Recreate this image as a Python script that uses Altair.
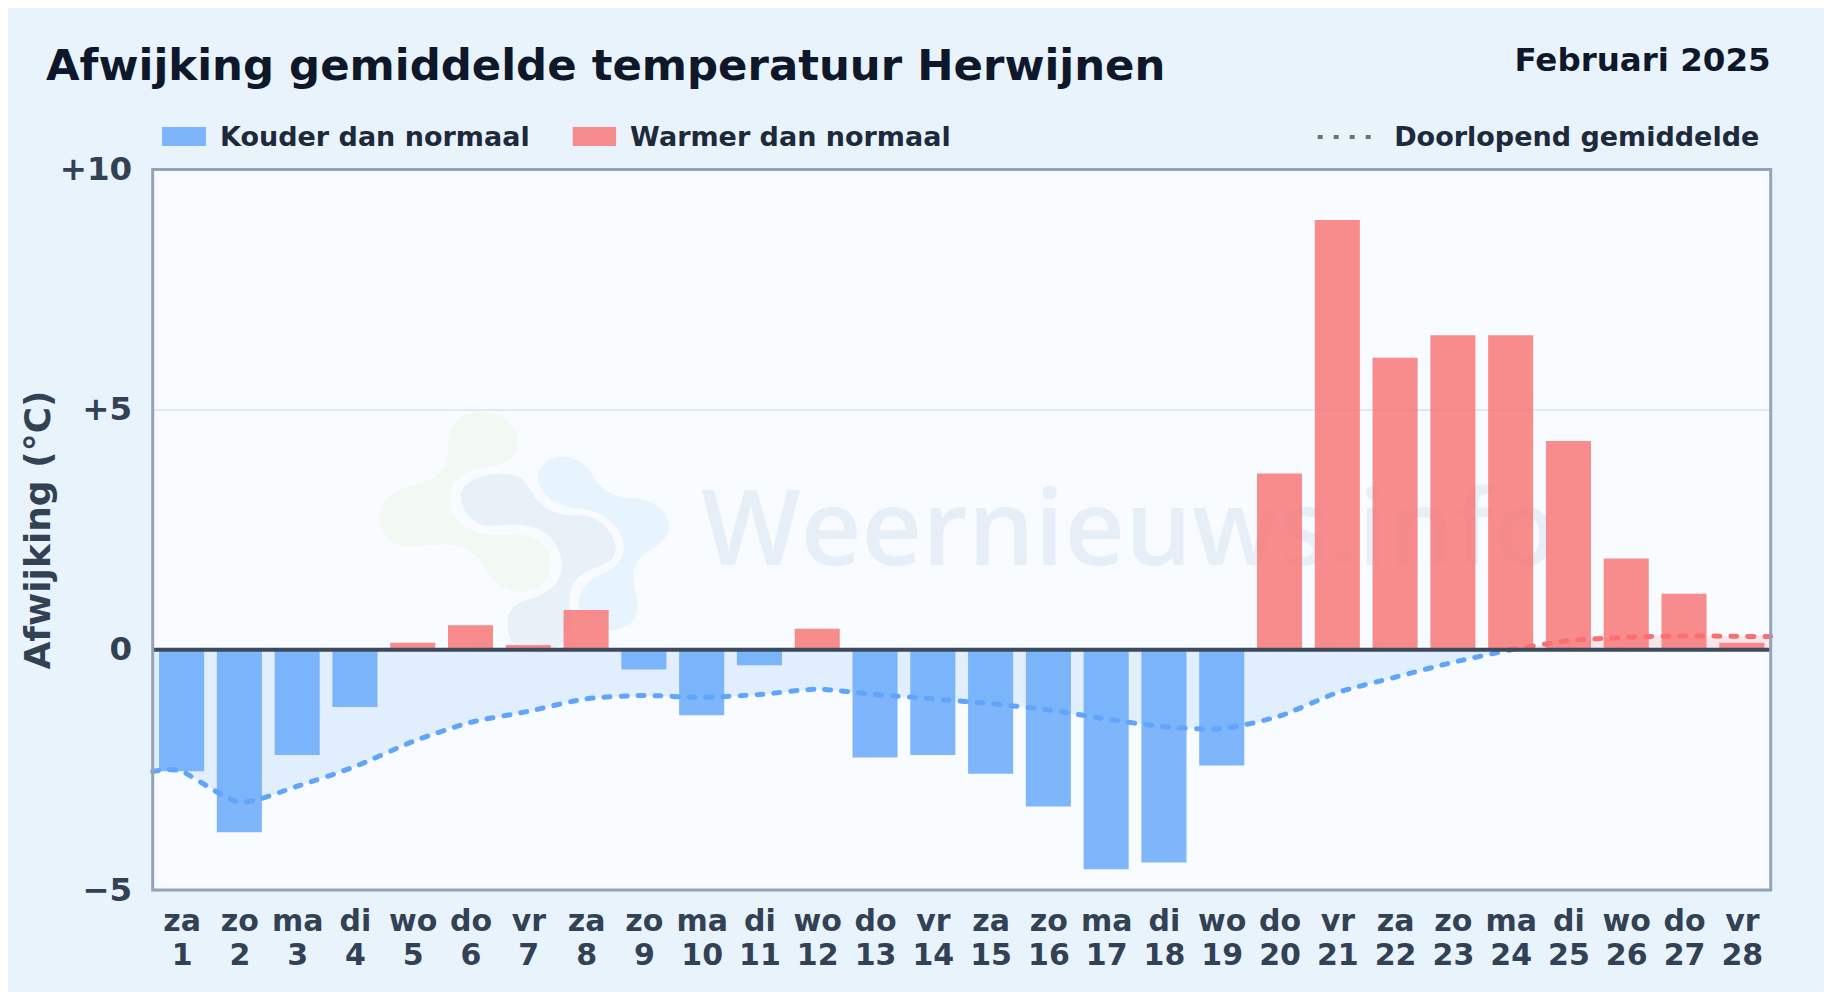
import altair as alt
import pandas as pd

# ---- data ----
DAYS = list(range(1, 29))
WEEKDAYS = ["za","zo","ma","di","wo","do","vr","za","zo","ma","di","wo","do","vr",
            "za","zo","ma","di","wo","do","vr","za","zo","ma","di","wo","do","vr"]
DEVIATION = [-2.53,-3.80,-2.19,-1.19,0.15,0.51,0.10,0.83,-0.41,-1.36,-0.32,0.44,-2.24,-2.19,
             -2.58,-3.26,-4.57,-4.43,-2.41,3.67,8.95,6.08,6.55,6.55,4.35,1.90,1.17,0.15]
AVG_X = [0.5] + DAYS + [28.5]
AVG_Y = [-2.53,-2.53,-3.17,-2.84,-2.43,-1.91,-1.51,-1.28,-1.02,-0.95,-0.99,-0.93,-0.82,-0.93,-1.02,
         -1.12,-1.25,-1.44,-1.60,-1.64,-1.38,-0.89,-0.57,-0.26,0.0,0.19,0.26,0.29,0.28,0.28]
TITLE = "Afwijking gemiddelde temperatuur Herwijnen"
PERIOD = "Februari 2025"
Y_TICKS = [-5, 0, 5, 10]

# ---- layout ----
W, H = 1618, 720.5
PAD_L, PAD_T = 144.7, 161.5
FONT = "DejaVu Sans"
BG = "#e8f3fc"
BLUE, RED = "#60a5fa", "#f87171"
CURVE = dict(interpolate="cardinal", tension=0.3)

bars = pd.DataFrame({"day": DAYS, "v": DEVIATION})
avg = pd.DataFrame({"x": AVG_X, "v": AVG_Y})

xs = alt.Scale(domain=[0.5, 28.5], nice=False, zero=False)
ys = alt.Scale(domain=[-5, 10], nice=False, zero=False)

wd = "[" + ",".join(f"'{d}'" for d in WEEKDAYS) + "]"
x_axis = alt.Axis(values=DAYS, title=None, ticks=False, domain=False, grid=False,
                  labelExpr=f"[{wd}[datum.value-1], ''+datum.value]",
                  labelFont=FONT, labelFontSize=30, labelFontWeight="bold", labelColor="#334155",
                  labelLineHeight=34, labelPadding=16, labelFlush=False, labelOverlap=False,
                  labelBound=False, labelAngle=0, labelAlign="center")
y_axis = alt.Axis(values=Y_TICKS, title="Afwijking (°C)", ticks=False, domain=False, grid=True,
                  gridColor="#e2e8f0", gridWidth=2,
                  labelExpr="datum.value>0 ? '+'+datum.value : (datum.value<0 ? '\u2212'+abs(datum.value) : '0')",
                  labelFont=FONT, labelFontSize=32.5, labelFontWeight="bold", labelColor="#334155",
                  labelPadding=21, labelFlush=False,
                  titleFont=FONT, titleFontSize=36, titleFontWeight="bold", titleColor="#334155",
                  titleX=-103, titleY=360, titleAngle=270, titleBaseline="alphabetic", titleAlign="center")
X = alt.X("x:Q", scale=xs, axis=x_axis)
Y = alt.Y("v:Q", scale=ys, axis=y_axis)


def blob(points, fill):
    """Closed smooth watermark outline (offsets in px from the logo centre)."""
    p = [((a - 455) / 2.613, (b - 430) / 3) for a, b in points]
    n = len(p)
    mid = lambda i: ((p[i][0] + p[(i + 1) % n][0]) / 2, (p[i][1] + p[(i + 1) % n][1]) / 2)
    m0 = mid(n - 1)
    d = f"M{m0[0]:.1f},{m0[1]:.1f}"
    for i in range(n):
        m = mid(i)
        d += f"Q{p[i][0]:.1f},{p[i][1]:.1f} {m[0]:.1f},{m[1]:.1f}"
    d += "Z"
    return alt.Chart(bars).transform_filter("datum.day==1").mark_point(
        shape=d, size=4, filled=True, fill=fill, opacity=1, strokeWidth=0
    ).encode(x=alt.value(524 - 152.7), y=alt.value(533 - 169.5))


GREEN_BLOB = [(255,130),(290,70),(380,65),(440,120),(440,190),(400,228),(330,235),(270,270),(255,340),(290,410),
              (360,440),(450,430),(505,460),(535,525),(500,595),(430,612),(370,570),(330,490),(260,460),(190,470),
              (115,472),(75,410),(80,340),(130,295),(210,275),(260,220)]
GREY_BLOB = [(295,290),(340,258),(400,250),(450,262),(470,300),(500,350),(560,380),(630,375),(680,420),(700,480),
             (680,520),(620,540),(580,580),(570,640),(585,700),(550,775),(490,795),(425,770),(408,710),(420,650),
             (480,625),(540,590),(560,520),(530,440),(470,405),(400,405),(340,410),(300,370),(288,320)]
SKY_BLOB = [(490,250),(520,205),(570,198),(620,225),(650,290),(700,325),(770,325),(825,365),(838,420),(810,465),
            (760,495),(735,555),(755,640),(745,695),(700,724),(640,715),(600,670),(595,620),(630,565),(690,540),
            (722,480),(700,410),(640,360),(570,355),(520,330),(490,280)]

one = alt.Chart(bars).transform_filter("datum.day==1")


def label(text, x, y, size, color, align="left", baseline="middle"):
    return one.mark_text(text=text, font=FONT, fontSize=size, fontWeight="bold", color=color,
                         align=align, baseline=baseline).encode(x=alt.value(x), y=alt.value(y))


def swatch(x0, x1, color):
    return one.mark_rect(color=color, opacity=0.8).encode(
        x=alt.value(x0), x2=alt.value(x1), y=alt.value(-42.5), y2=alt.value(-23.5))


watermark_text = one.mark_text(text="Weernieuws.info", font="Open Sans", fontSize=105.5, fontWeight=600, color="#e6eff8",
                               align="left", baseline="alphabetic").encode(
    x=alt.value(701 - 152.7), y=alt.value(395.5))

area_blue = alt.Chart(avg).transform_filter("datum.x<=24").mark_area(
    color=BLUE, opacity=0.15, **CURVE).encode(x=X, y=Y, y2=alt.datum(0))
area_red = alt.Chart(avg).transform_filter("datum.x>=24").mark_area(
    color=RED, opacity=0.15, **CURVE).encode(x=X, y=Y, y2=alt.datum(0))

bar_layer = alt.Chart(bars).transform_calculate(
    x0="datum.day-0.39", x1="datum.day+0.39", kind="datum.v<0?'cold':'warm'"
).mark_bar(opacity=0.8, cornerRadius=0).encode(
    x=alt.X("x0:Q", scale=xs, axis=x_axis), x2="x1:Q",
    y=Y, y2=alt.datum(0),
    color=alt.Color("kind:N", scale=alt.Scale(domain=["cold", "warm"], range=[BLUE, RED]), legend=None),
)

line_blue = alt.Chart(avg).transform_filter("datum.x<=24").mark_line(
    color=BLUE, strokeWidth=5, strokeDash=[6, 11], strokeCap="round", **CURVE).encode(x=X, y=Y)
line_red = alt.Chart(avg).transform_filter("datum.x>=24").mark_line(
    color=RED, strokeWidth=5, strokeDash=[6, 11], strokeCap="round", **CURVE).encode(x=X, y=Y)

zero_line = one.mark_rule(color="#3d4a5e", strokeWidth=4).encode(
    y=alt.Y(datum=0, scale=ys, axis=y_axis), x=alt.value(0), x2=alt.value(W))

border = one.mark_rect(fill=None, stroke="#94a3b8", strokeWidth=3).encode(
    x=alt.value(0), x2=alt.value(W), y=alt.value(0), y2=alt.value(H))

legend_line = one.mark_rule(color="#64748b", strokeWidth=4, strokeDash=[5, 11]).encode(
    x=alt.value(1165), x2=alt.value(1220), y=alt.value(-32.5))

chart = alt.layer(
    blob(GREEN_BLOB, "#f2f8f2"), blob(SKY_BLOB, "#e8f4fd"), blob(GREY_BLOB, "#e8f0f8"), watermark_text,
    area_blue, area_red, bar_layer, line_blue, line_red, zero_line, border,
    swatch(9.3, 53.3, BLUE), label("Kouder dan normaal", 67.3, -32, 27, "#1e293b"),
    swatch(420, 463.4, RED), label("Warmer dan normaal", 477.4, -32, 27, "#1e293b"),
    legend_line, label("Doorlopend gemiddelde", 1606.6, -32, 27, "#1e293b", align="right"),
    label(TITLE, -106.7, -90, 43.4, "#0f172a", baseline="alphabetic"),
    label(PERIOD, W, -99, 32.5, "#0f172a", align="right", baseline="alphabetic"),
).resolve_scale(color="independent").properties(
    width=W, height=H, background=BG,
    autosize=alt.AutoSizeParams(type="none"),
    padding={"left": PAD_L, "top": PAD_T, "right": 1816 - PAD_L - W, "bottom": 984 - PAD_T - H},
).configure_view(fill="#f8fbff", stroke=None)

chart.save("out.html", embed_options={"renderer": "svg", "actions": False})
